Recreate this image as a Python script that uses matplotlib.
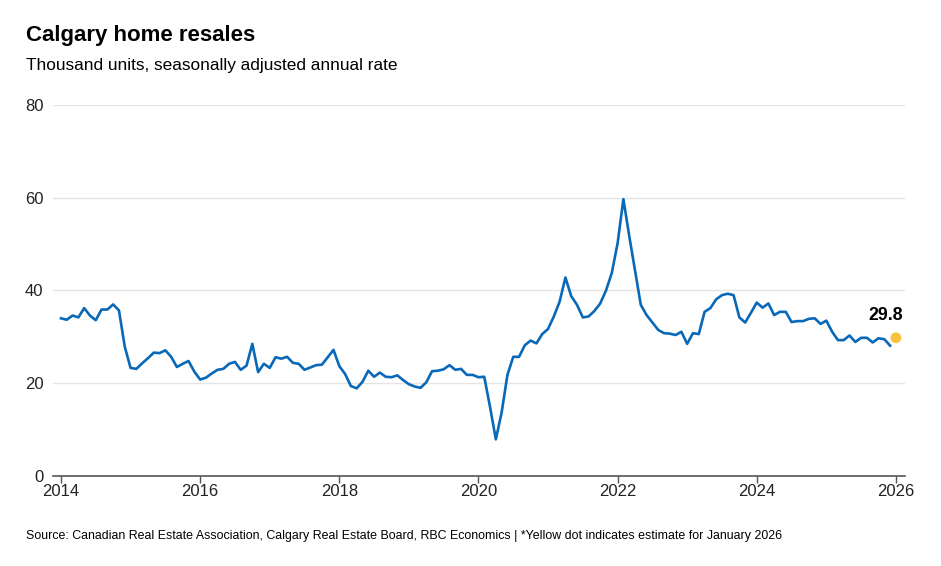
"Calgary home resales chart"
import numpy as np
import matplotlib
matplotlib.use('Agg')
import matplotlib.pyplot as plt

plt.rcParams['font.family'] = ['Liberation Sans', 'DejaVu Sans']

# monthly resales, thousand units SAAR (Jan..Dec)
y2014 = [34.0, 33.7, 34.6, 34.2, 36.2, 34.6, 33.6, 35.9, 35.9, 37.0, 35.7, 27.9]
y2015 = [23.3, 23.1, 24.3, 25.4, 26.6, 26.5, 27.1, 25.7, 23.5, 24.2, 24.8, 22.5]
y2016 = [20.8, 21.2, 22.1, 22.9, 23.1, 24.2, 24.6, 22.9, 23.8, 28.5, 22.4, 24.2]
y2017 = [23.3, 25.6, 25.3, 25.7, 24.4, 24.2, 22.9, 23.4, 23.9, 24.0, 25.6, 27.2]
y2018 = [23.7, 22.0, 19.4, 18.9, 20.3, 22.7, 21.4, 22.3, 21.4, 21.3, 21.7, 20.7]
y2019 = [19.8, 19.3, 19.0, 20.2, 22.6, 22.7, 23.0, 23.9, 22.9, 23.1, 21.8, 21.8]
y2020 = [21.3, 21.4, 14.9, 7.9, 13.7, 21.8, 25.7, 25.7, 28.2, 29.2, 28.6, 30.6]
y2021 = [31.7, 34.4, 37.6, 42.8, 38.8, 36.9, 34.2, 34.4, 35.6, 37.2, 40.0, 43.8]
y2022 = [50.2, 59.7, 51.8, 44.4, 36.9, 34.7, 33.1, 31.5, 30.8, 30.7, 30.4, 31.1]
y2023 = [28.5, 30.8, 30.6, 35.4, 36.2, 38.1, 39.0, 39.3, 39.0, 34.2, 33.1, 35.2]
y2024 = [37.4, 36.3, 37.2, 34.7, 35.4, 35.4, 33.2, 33.4, 33.4, 33.9, 34.0, 32.8]
y2025 = [33.5, 31.1, 29.3, 29.3, 30.3, 28.9, 29.8, 29.8, 28.8, 29.7, 29.5, 28.1]

estimate_x = 2026.0
estimate_val = 29.8

yticks = [0, 20, 40, 60, 80]
xticks = [2014, 2016, 2018, 2020, 2022, 2024, 2026]

values = np.array(y2014 + y2015 + y2016 + y2017 + y2018 + y2019 +
                  y2020 + y2021 + y2022 + y2023 + y2024 + y2025)
dates = 2014 + np.arange(len(values)) / 12

fig = plt.figure(figsize=(9.41, 5.66), dpi=100)
ax = fig.add_axes([0.0563, 0.159, 0.9054, 0.6555])

ax.plot(dates, values, color='#0a68b8', lw=1.9, solid_joinstyle='round')
ax.scatter([estimate_x], [estimate_val], s=60, color='#f9c23c', zorder=3, edgecolors='none')
ax.annotate('{:.1f}'.format(estimate_val), (estimate_x, estimate_val), xytext=(-7.5, 10),
            textcoords='offset points', ha='center', va='bottom',
            fontsize=12.8, fontweight='bold', color='black')

ax.set_xlim(2013.885, 2026.13)
ax.set_ylim(0, 80)
ax.set_yticks(yticks)
ax.set_xticks(xticks)
ax.grid(axis='y', color='#e5e5e5', lw=1)
ax.set_axisbelow(True)
for s in ['left', 'right', 'top']:
    ax.spines[s].set_visible(False)
ax.spines['bottom'].set_color('#555555')
ax.spines['bottom'].set_linewidth(1.2)
ax.tick_params(axis='y', length=0, pad=7, labelsize=12, labelcolor='#222222')
ax.tick_params(axis='x', length=5, width=1, color='#555555', pad=1, labelsize=12, labelcolor='#222222')

fig.text(26 / 941, 1 - 35 / 566, 'Calgary home resales', fontsize=16, fontweight='bold', va='center')
fig.text(26 / 941, 1 - 66 / 566, 'Thousand units, seasonally adjusted annual rate', fontsize=12.4, va='center')
fig.text(26 / 941, 1 - 536 / 566,
         'Source: Canadian Real Estate Association, Calgary Real Estate Board, RBC Economics | '
         '*Yellow dot indicates estimate for January 2026', fontsize=8.9, va='center')

fig.savefig('out.png', dpi=100)
